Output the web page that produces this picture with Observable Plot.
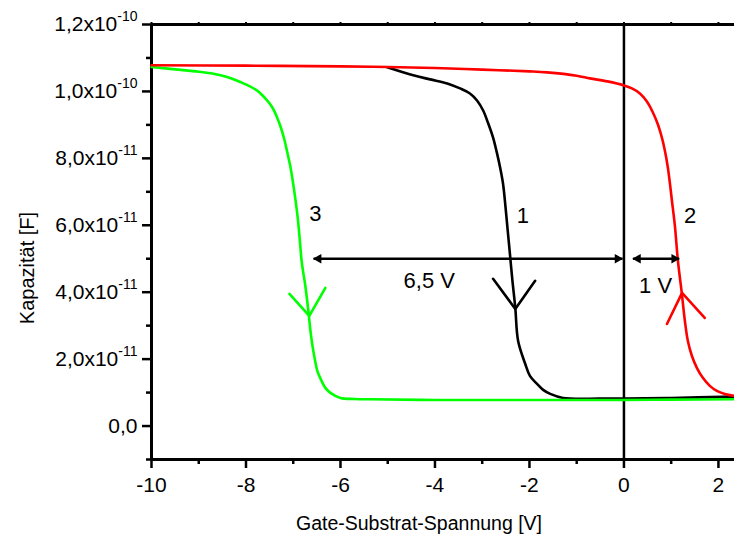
<!DOCTYPE html>
<html><head><meta charset="utf-8">
<script src="https://cdn.jsdelivr.net/npm/d3@7"></script>
<script src="https://cdn.jsdelivr.net/npm/@observablehq/plot@0.6"></script>
<style>body{margin:0;background:#fff;}</style>
</head><body><div id="chart"></div>
<script>
// Curve 1 (black)
const curve1V = [-5.01,-4.46,-4.10,-3.74,-3.47,-3.26,-3.11,-2.98,-2.88,-2.77,-2.69,-2.62,-2.56,-2.52,-2.46,-2.42,-2.36,-2.30,-2.24,-2.09,-1.99,-1.84,-1.71,-1.56,-1.29,-0.5,0,1,2.34];
const curve1C = [10.72e-11,10.48e-11,10.36e-11,10.24e-11,10.09e-11,9.94e-11,9.73e-11,9.43e-11,9.07e-11,8.62e-11,8.17e-11,7.72e-11,7.25e-11,6.74e-11,5.84e-11,5.24e-11,4.34e-11,3.53e-11,2.54e-11,1.86e-11,1.50e-11,1.26e-11,1.08e-11,0.96e-11,0.84e-11,0.82e-11,0.82e-11,0.84e-11,0.88e-11];
// Curve 2 (red)
const curve2V = [-10,-8,-6,-5,-4,-3,-2,-1.63,-1,-0.72,-0.35,0,0.169,0.338,0.486,0.613,0.719,0.803,0.867,0.930,0.973,1.015,1.078,1.142,1.226,1.29,1.353,1.437,1.543,1.67,1.818,1.966,2.135,2.34];
const curve2C = [10.78e-11,10.77e-11,10.75e-11,10.73e-11,10.70e-11,10.65e-11,10.60e-11,10.57e-11,10.47e-11,10.39e-11,10.3e-11,10.18e-11,10.09e-11,9.94e-11,9.70e-11,9.37e-11,9.01e-11,8.62e-11,8.23e-11,7.72e-11,7.25e-11,6.74e-11,5.99e-11,4.94e-11,3.95e-11,3.14e-11,2.54e-11,2.10e-11,1.74e-11,1.44e-11,1.20e-11,1.05e-11,0.96e-11,0.90e-11];
// Curve 3 (green)
const curve3V = [-10,-9.5,-9.0,-8.69,-8.40,-8.12,-7.77,-7.554,-7.442,-7.343,-7.262,-7.188,-7.125,-7.061,-7.008,-6.956,-6.903,-6.860,-6.818,-6.744,-6.68,-6.628,-6.575,-6.49,-6.43,-6.32,-6.22,-6.0,-5.7,-5.37,-4,-2,0,1,2.34];
const curve3C = [10.73e-11,10.66e-11,10.59e-11,10.53e-11,10.43e-11,10.28e-11,10.03e-11,9.731e-11,9.521e-11,9.231e-11,8.922e-11,8.563e-11,8.174e-11,7.754e-11,7.305e-11,6.796e-11,6.198e-11,5.539e-11,4.880e-11,4.192e-11,3.443e-11,2.754e-11,2.246e-11,1.65e-11,1.44e-11,1.14e-11,1.00e-11,0.84e-11,0.81e-11,0.80e-11,0.78e-11,0.78e-11,0.78e-11,0.79e-11,0.80e-11];
const curveColors = ["#000000", "#ff0000", "#00ff00"];

// Direction chevrons (arm, tip, arm) for curves 1, 2, 3
const chevronV = [[-2.77,-2.30,-1.88],[0.91,1.23,1.71],[-7.08,-6.66,-6.32]];
const chevronC = [[4.40e-11,3.50e-11,4.34e-11],[3.05e-11,3.98e-11,3.23e-11],[3.95e-11,3.29e-11,4.13e-11]];

// Shift arrows
const shiftFrom = [-6.57, 0.19];
const shiftTo = [-0.03, 1.17];
const shiftC = [5.0e-11, 5.0e-11];

// Annotation labels
const labelText = ["1","2","3","6,5 V","1 V"];
const labelV = [-2.14, 1.40, -6.53, -4.12, 0.67];
const labelC = [6.29e-11, 6.29e-11, 6.35e-11, 4.34e-11, 4.19e-11];

// Axes
const xMajorTicks = [-10,-8,-6,-4,-2,0,2];
const xMinorTicks = [-9,-7,-5,-3,-1,1];
const xTopTicks = [-10,-9,-8,-7,-6,-5,-4,-3,-2,-1,0,1,2];
const yMajorTicks = [0,2e-11,4e-11,6e-11,8e-11,1e-10,1.2e-10];
const yTickLabels = ["0,0","2,0x10^-11","4,0x10^-11","6,0x10^-11","8,0x10^-11","1,0x10^-10","1,2x10^-10"];
const yMinorTicks = [-1e-11,1e-11,3e-11,5e-11,7e-11,9e-11,1.1e-10];
const xTitle = "Gate-Substrat-Spannung [V]";
const yTitle = "Kapazität [F]";

const series = [];
[[curve1V,curve1C],[curve2V,curve2C],[curve3V,curve3C]].forEach(([V,C],k) => {
  V.forEach((v,i) => series.push({s:k, v, c:C[i]}));
});
const chevrons = [];
chevronV.forEach((arr,k) => arr.forEach((v,i) => chevrons.push({s:k, v, c:chevronC[k][i]})));
const shifts = shiftFrom.map((v,i) => ({x1:v, x2:shiftTo[i], y:shiftC[i]}));
const labels = labelText.map((t,i) => ({t, v:labelV[i], c:labelC[i]}));
const colorOf = s => curveColors[s];
const curveLine = k => Plot.line(series, {x: "v", y: "c", z: "s", stroke: d => colorOf(d.s), strokeWidth: 2.6, curve: "catmull-rom", filter: d => d.s === k});

const plot = Plot.plot({
  width: 734, height: 541,
  marginLeft: 151, marginRight: 0, marginTop: 24, marginBottom: 82,
  style: {fontFamily: "'Liberation Sans', Arial, sans-serif", color: "#000", background: "#fff"},
  x: {domain: [-10, 2.34]},
  y: {domain: [-1e-11, 1.2e-10]},
  marks: [
    Plot.axisX(xMajorTicks, {tickSize: 9, tickPadding: 9, fontSize: 21, strokeWidth: 2.5, tickFormat: d => d < 0 ? "-" + Math.abs(d) : String(d), label: null}),
    Plot.axisX(xMinorTicks, {tickSize: 5, strokeWidth: 2.5, tickFormat: () => "", label: null}),
    Plot.axisX(xTopTicks, {anchor: "top", tickSize: 3, strokeWidth: 2, tickFormat: () => "", label: null}),
    Plot.axisY(yMajorTicks, {tickSize: 9, tickPadding: 5, fontSize: 21, strokeWidth: 2.5, tickFormat: d => yTickLabels[yMajorTicks.indexOf(d)], label: null}),
    Plot.axisY(yMinorTicks, {tickSize: 5, strokeWidth: 2.5, tickFormat: () => "", label: null}),
    Plot.ruleX([-10], {strokeWidth: 3}),
    Plot.ruleY([-1e-11], {strokeWidth: 3}),
    Plot.ruleY([1.2e-10], {strokeWidth: 3}),
    Plot.ruleX([0], {strokeWidth: 2.5}),
    curveLine(0),
    curveLine(2),
    curveLine(1),
    Plot.line(chevrons, {x: "v", y: "c", z: "s", stroke: d => colorOf(d.s), strokeWidth: 2.6}),
    Plot.link(shifts, {x1: "x1", x2: "x2", y1: "y", y2: "y", stroke: "#000", strokeWidth: 2.5}),
    Plot.dot(shifts, {x: "x2", y: "y", symbol: "triangle", r: 3.6, rotate: 90, dx: -5, fill: "#000", stroke: "none"}),
    Plot.dot(shifts, {x: "x1", y: "y", symbol: "triangle", r: 3.6, rotate: -90, dx: 5, fill: "#000", stroke: "none"}),
    Plot.text(labels, {x: "v", y: "c", text: "t", fontSize: 22, fill: "#000"}),
    Plot.text([xTitle], {frameAnchor: "bottom", textAnchor: "middle", lineAnchor: "middle", dy: 64, dx: -24, fontSize: 19.5, fill: "#000"}),
    Plot.text([yTitle], {frameAnchor: "left", textAnchor: "middle", lineAnchor: "middle", dx: -124, dy: 26, rotate: -90, fontSize: 20, fill: "#000"})
  ]
});

// Render y tick exponents as superscripts
const ns = "http://www.w3.org/2000/svg";
plot.querySelectorAll("text").forEach(t => {
  const s = t.textContent;
  const i = s.indexOf("^");
  if (i < 0) return;
  t.textContent = "";
  const a = document.createElementNS(ns, "tspan");
  a.textContent = s.slice(0, i);
  const b = document.createElementNS(ns, "tspan");
  b.textContent = s.slice(i + 1);
  b.setAttribute("font-size", "14");
  b.setAttribute("dy", "-10");
  t.append(a, b);
});
document.getElementById("chart").append(plot);
</script>
</body></html>
